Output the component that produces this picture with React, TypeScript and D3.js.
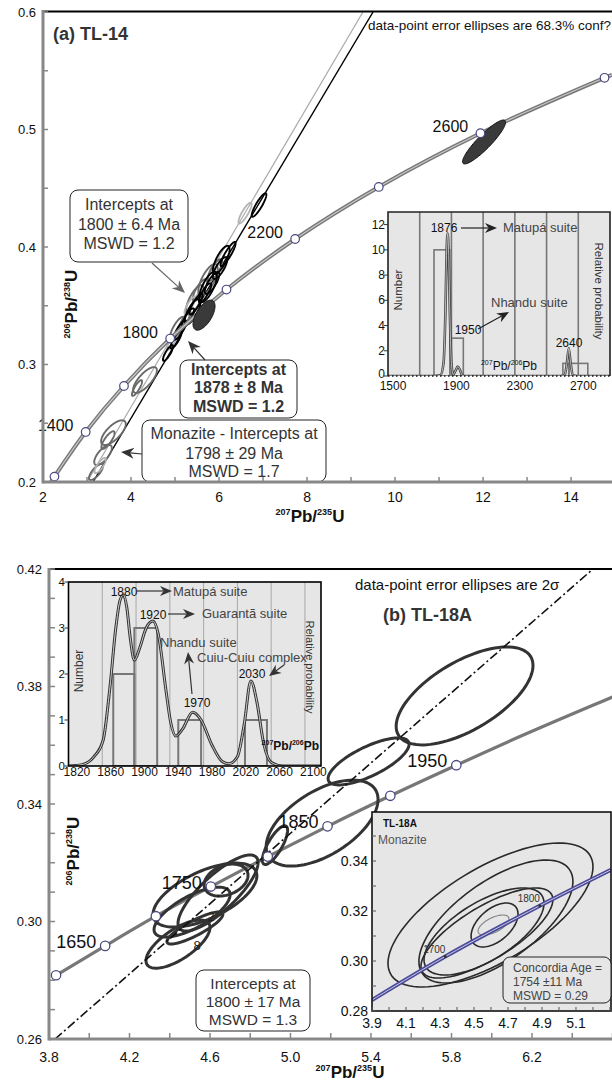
import React from "react";
import * as d3 from "d3";

const FONT = "'Liberation Sans', Arial, Helvetica, sans-serif";

// ---------- (a) TL-14 ----------
const agesA = [1200, 1400, 1600, 1800, 2000, 2200, 2400, 2600, 2800];
const concAX = [2.26, 2.97, 3.84, 4.89, 6.17, 7.73, 9.63, 11.94, 14.76];
const concAY = [0.2046, 0.2426, 0.2817, 0.3221, 0.3638, 0.4068, 0.4511, 0.4968, 0.544];
const concAStart = [2.18, 0.2];
const concAEnd = [14.93, 0.5466];
const labelsA = [1400, 1800, 2200, 2600];

// discordia chords: x0, y0, x1, y1
const discordBlackA = [3.136, 0.2, 9.5, 0.6];
const discordGrayA = [3.0, 0.2, 9.27, 0.6];

// error ellipses: x, y, sx, sy, rho
const ellBlackA = [
  [6.909, 0.4357, 0.167, 0.01, 0.88],
  [6.205, 0.394, 0.172, 0.0103, 0.89],
  [6.023, 0.3821, 0.164, 0.0093, 0.78],
  [6.05, 0.389, 0.19, 0.012, 0.75],
  [5.841, 0.3694, 0.164, 0.0093, 0.78],
  [5.75, 0.366, 0.2, 0.013, 0.72],
  [5.682, 0.3609, 0.14, 0.0082, 0.83],
  [5.477, 0.3515, 0.15, 0.0089, 0.85],
  [5.4, 0.345, 0.18, 0.011, 0.75],
  [5.295, 0.3396, 0.14, 0.0082, 0.83],
  [5.114, 0.3294, 0.14, 0.0082, 0.83],
  [5.023, 0.3209, 0.126, 0.0074, 0.85],
  [4.841, 0.3098, 0.115, 0.0067, 0.83],
];
const ellGrayA = [
  [5.909, 0.3804, 0.164, 0.0093, 0.78],
  [5.75, 0.372, 0.22, 0.0135, 0.7],
  [5.568, 0.3634, 0.164, 0.0093, 0.78],
  [5.45, 0.355, 0.2, 0.0125, 0.72],
  [5.227, 0.3379, 0.126, 0.0074, 0.85],
  [5.05, 0.33, 0.17, 0.0105, 0.75],
  [4.318, 0.2868, 0.27, 0.011, 0.75],
  [4.136, 0.28, 0.115, 0.0067, 0.83],
  [3.6, 0.242, 0.28, 0.0105, 0.7],
  [3.477, 0.2357, 0.15, 0.0075, 0.8],
  [3.364, 0.223, 0.2, 0.0085, 0.7],
  [3.205, 0.2085, 0.16, 0.0068, 0.75],
];
const ellLightA = [
  [6.591, 0.4289, 0.15, 0.0089, 0.85],
  [5.341, 0.3506, 0.126, 0.0074, 0.85],
  [4.932, 0.3191, 0.115, 0.0067, 0.83],
  [3.3, 0.214, 0.13, 0.0065, 0.8],
];
const ellFilledA = [
  [5.659, 0.342, 0.25, 0.0128, 0.6],
  [12.023, 0.4894, 0.489, 0.0187, 0.9],
];

// inset (a): 207Pb/206Pb histogram + probability
const histA = [
  [1790, 1890, 10],
  [1900, 1975, 3],
  [2603, 2641, 1],
  [2641, 2760, 1],
];
const probA = [
  [1500, 0], [1780, 0], [1830, 0.05], [1850, 1], [1862, 5], [1870, 10], [1876, 11.3],
  [1882, 10], [1890, 5], [1900, 1], [1912, 0.1], [1925, 0.4], [1940, 0.75], [1955, 0.45],
  [1968, 0.05], [1990, 0], [2590, 0], [2615, 0.1], [2628, 1], [2640, 2.2], [2652, 1],
  [2665, 0.1], [2690, 0], [2900, 0],
];
const gridA = [1700, 1900, 2100, 2300, 2500, 2700];
const xTicksIA = [1500, 1900, 2300, 2700];
const yTicksIA = [0, 2, 4, 6, 8, 10, 12];

// ---------- (b) TL-18A ----------
const agesB = [1600, 1650, 1700, 1750, 1800, 1850, 1900, 1950];
const concBX = [3.835, 4.079, 4.331, 4.604, 4.887, 5.184, 5.496, 5.824];
const concBY = [0.2817, 0.2917, 0.3018, 0.3119, 0.3221, 0.3324, 0.3428, 0.3532];
const concBTail = [[6.168, 0.3638], [6.53, 0.3744], [6.6, 0.3764]];
const labelsB = [1650, 1750, 1850, 1950];
const discordB = [3.83, 0.26, 6.56, 0.4234];

const ellB = [
  [5.865, 0.3768, 0.34, 0.01668, 0.62],
  [5.388, 0.3545, 0.2012, 0.008, 0.73],
  [5.157, 0.3335, 0.278, 0.01464, 0.55],
  [4.923, 0.326, 0.0626, 0.0066, 0.77],
  [4.575, 0.309, 0.258, 0.0109, 0.6],
  [4.64, 0.3097, 0.199, 0.01294, 0.8],
  [4.511, 0.3032, 0.189, 0.0085, 0.7],
  [4.441, 0.2923, 0.159, 0.0082, 0.69],
  [4.68, 0.3141, 0.109, 0.00545, 0.3],
  [4.525, 0.2978, 0.139, 0.00545, 0.85],
];

// inset (b) histogram
const histB = [
  [1863, 1888, 2],
  [1888, 1915, 3],
  [1940, 1967, 1],
  [2019, 2045, 1],
];
const probB = [
  [1810, 0], [1826, 0.03], [1840, 0.2], [1851, 0.56], [1859, 1.7], [1866, 3.0], [1871, 3.6],
  [1875, 3.72], [1879, 3.45], [1883, 2.8], [1888, 2.3], [1894, 2.55], [1902, 3.0], [1910, 3.15],
  [1917, 2.8], [1925, 1.7], [1931, 0.95], [1937, 0.65], [1945, 0.8], [1957, 1.17], [1967, 1.0],
  [1980, 0.45], [1992, 0.1], [2000, 0.05], [2010, 0.2], [2018, 0.9], [2026, 1.85], [2033, 1.4],
  [2041, 0.5], [2050, 0.08], [2064, 0], [2109, 0],
];
const gridB = [1850, 1890, 1930, 1970, 2010, 2050, 2090];
const xTicksIB = [1820, 1860, 1900, 1940, 1980, 2020, 2060, 2100];
const yTicksIB = [0, 1, 2, 3, 4];

// inset (b) monazite concordia
const concMX = [3.9, 4.331, 4.887, 5.306];
const concMY = [0.2844, 0.3018, 0.3221, 0.3365];
const agesM = [1613, 1700, 1800, 1870];
const labelsM = [1700, 1800];
const ellM = [
  [4.597, 0.3184, 0.603, 0.0288, 0.67],
  [4.629, 0.3158, 0.453, 0.0246, 0.65],
  [4.576, 0.3112, 0.388, 0.018, 0.74],
  [4.559, 0.3118, 0.353, 0.0174, 0.65],
  [4.621, 0.3144, 0.138, 0.0088, 0.5],
];
const ellMSmall = [[4.615, 0.3144, 0.091, 0.004, 0.6]];
const xTicksM = [3.9, 4.1, 4.3, 4.5, 4.7, 4.9, 5.1];
const yTicksM = [0.28, 0.3, 0.32, 0.34];

// ---------- scales ----------
const xA = d3.scaleLinear().domain([2, 14.93]).range([43, 612]);
const yA = d3.scaleLinear().domain([0.2, 0.6]).range([482, 12]);
const xIA = d3.scaleLinear().domain([1500, 2900]).range([388, 610]);
const yIA = d3.scaleLinear().domain([0, 13]).range([376, 212]);

const xB = d3.scaleLinear().domain([3.8, 6.6]).range([49, 612.5]);
const yB = d3.scaleLinear().domain([0.26, 0.42]).range([1039, 569]);
const xIB = d3.scaleLinear().domain([1810, 2109]).range([68.5, 321]);
const yIB = d3.scaleLinear().domain([0, 4]).range([766, 582]);
const xM = d3.scaleLinear().domain([3.9, 5.306]).range([372, 611]);
const yM = d3.scaleLinear().domain([0.28, 0.3596]).range([1011, 812]);

function ellipsePath(e, sx, sy) {
  const [x, y, ex, ey, r] = e;
  const k = Math.sqrt(1 - r * r);
  const pts = d3.range(0, 97).map((i) => {
    const t = (i / 96) * 2 * Math.PI;
    return [sx(x + ex * Math.cos(t)), sy(y + ey * (r * Math.cos(t) + k * Math.sin(t)))];
  });
  return d3.line()(pts) + "Z";
}

function Arrow({ x1, y1, x2, y2, color = "#333", w = 1.2, hl = 13, hw = 11 }) {
  const a = Math.atan2(y2 - y1, x2 - x1);
  const c = Math.cos(a), s = Math.sin(a);
  const bx = x2 - hl * c, by = y2 - hl * s;
  const ix = x2 - hl * 0.7 * c, iy = y2 - hl * 0.7 * s;
  const px = (-s * hw) / 2, py = (c * hw) / 2;
  return (
    <g>
      <line x1={x1} y1={y1} x2={ix} y2={iy} stroke={color} strokeWidth={w} />
      <path d={`M${x2},${y2}L${bx + px},${by + py}L${ix},${iy}L${bx - px},${by - py}Z`} fill={color} />
    </g>
  );
}

function Ratio({ x, y, a, b, c, d, size, sup, rotate = 0, anchor = "middle", weight = "bold" }) {
  const off = size * 0.42;
  return (
    <text
      x={x}
      y={y}
      textAnchor={anchor}
      fontWeight={weight}
      fontFamily={FONT}
      fill="#111"
      transform={rotate ? `rotate(${rotate},${x},${y})` : undefined}
    >
      <tspan fontSize={sup} dy={-off}>{a}</tspan>
      <tspan fontSize={size} dy={off}>{b}/</tspan>
      <tspan fontSize={sup} dy={-off}>{c}</tspan>
      <tspan fontSize={size} dy={off}>{d}</tspan>
    </text>
  );
}

function Box({ x, y, w, h, lines, cx, base, size, bold = false, fill = "#fff", anchor = "middle", color = "#333", rx = 8 }) {
  return (
    <g>
      <rect x={x} y={y} width={w} height={h} rx={rx} fill={fill} stroke="#222" strokeWidth={1} />
      {lines.map((t, i) => (
        <text key={i} x={cx} y={base[i]} textAnchor={anchor} fontSize={size} fontWeight={bold ? "bold" : "normal"} fontFamily={FONT} fill={color}>
          {t}
        </text>
      ))}
    </g>
  );
}

const probLine = (sx, sy) => d3.line().x((d) => sx(d[0])).y((d) => sy(d[1])).curve(d3.curveMonotoneX);
const concLine = (sx, sy) => d3.line().x((d) => sx(d[0])).y((d) => sy(d[1])).curve(d3.curveCatmullRom);

function PanelA() {
  const concPts = [concAStart, ...concAX.map((x, i) => [x, concAY[i]]), concAEnd];
  const concPath = concLine(xA, yA)(concPts);
  const xTicks = d3.range(2, 15, 1);
  const yTicks = d3.range(0.2, 0.601, 0.05);
  return (
    <g>
      <defs>
        <clipPath id="clipA">
          <rect x={43} y={12} width={569} height={470} />
        </clipPath>
        <clipPath id="clipIA">
          <rect x={388} y={212} width={222} height={164} />
        </clipPath>
      </defs>
      <g clipPath="url(#clipA)">
        <line x1={xA(discordGrayA[0])} y1={yA(discordGrayA[1])} x2={xA(discordGrayA[2])} y2={yA(discordGrayA[3])} stroke="#aaa" strokeWidth={1.2} />
        <line x1={xA(discordBlackA[0])} y1={yA(discordBlackA[1])} x2={xA(discordBlackA[2])} y2={yA(discordBlackA[3])} stroke="#000" strokeWidth={1.4} />
        {ellGrayA.map((e, i) => (
          <path key={"g" + i} d={ellipsePath(e, xA, yA)} fill="none" stroke="#6a6a6a" strokeWidth={1.9} />
        ))}
        {ellLightA.map((e, i) => (
          <path key={"l" + i} d={ellipsePath(e, xA, yA)} fill="none" stroke="#b4b4b4" strokeWidth={1.8} />
        ))}
        {ellBlackA.map((e, i) => (
          <path key={"b" + i} d={ellipsePath(e, xA, yA)} fill="none" stroke="#000" strokeWidth={1.9} />
        ))}
        <path d={concPath} fill="none" stroke="#777" strokeWidth={4} />
        <path d={concPath} fill="none" stroke="#c8c8c8" strokeWidth={1.2} />
        {ellFilledA.map((e, i) => (
          <path key={"f" + i} d={ellipsePath(e, xA, yA)} fill="#3a3a3a" stroke="#111" strokeWidth={1} />
        ))}
        {concAX.map((x, i) => (
          <circle key={i} cx={xA(x)} cy={yA(concAY[i])} r={4.3} fill="#fff" stroke="#4a4a82" strokeWidth={1.2} />
        ))}
      </g>
      {labelsA.map((age) => {
        const i = agesA.indexOf(age);
        return (
          <text key={age} x={xA(concAX[i]) - 30} y={yA(concAY[i]) - 1} textAnchor="middle" fontSize={16} fontFamily={FONT} fill="#111">
            {age}
          </text>
        );
      })}

      <text x={53} y={40} fontSize={18} fontWeight="bold" fontFamily={FONT} fill="#333">(a) TL-14</text>
      <text x={368} y={30} fontSize={13} fontFamily={FONT} fill="#111" textLength={243} lengthAdjust="spacingAndGlyphs">
        data-point error ellipses are 68.3% conf?
      </text>

      <Box x={70} y={190} w={118} h={72} cx={129} base={[210, 230, 249]} size={16} lines={["Intercepts at", "1800 ± 6.4 Ma", "MSWD = 1.2"]} />
      <Arrow x1={152} y1={263} x2={185} y2={293} color="#666" />
      <Box x={180} y={360} w={117} h={58} cx={238.5} base={[375, 393, 412]} size={16} bold lines={["Intercepts at", "1878 ± 8 Ma", "MSWD = 1.2"]} />
      <Arrow x1={205} y1={360} x2={188} y2={341} color="#333" />
      <Box x={142} y={420} w={184} h={62} cx={234} base={[439, 459, 477]} size={16} lines={["Monazite - Intercepts at", "1798 ± 29 Ma", "MSWD = 1.7"]} />
      <Arrow x1={142} y1={454} x2={121} y2={452} color="#333" />

      {/* inset */}
      <rect x={388} y={212} width={222} height={164} fill="#e6e6e6" />
      <g clipPath="url(#clipIA)">
        {gridA.map((g) => (
          <line key={g} x1={xIA(g)} x2={xIA(g)} y1={212} y2={376} stroke="#777" strokeWidth={1.6} />
        ))}
        {histA.map((h, i) => (
          <rect key={i} x={xIA(h[0])} y={yIA(h[2])} width={xIA(h[1]) - xIA(h[0])} height={yIA(0) - yIA(h[2])} fill="none" stroke="#777" strokeWidth={1.6} />
        ))}
        <path d={probLine(xIA, yIA)(probA)} fill="none" stroke="#444" strokeWidth={2.6} />
        <path d={probLine(xIA, yIA)(probA)} fill="none" stroke="#d8d8d8" strokeWidth={0.8} />
      </g>
      <path d="M388,376V212H610V376" fill="none" stroke="#222" strokeWidth={1.6} />
      <line x1={388} x2={610} y1={376} y2={376} stroke="#111" strokeWidth={1.4} strokeDasharray="1.5,2.5" />
      {yTicksIA.map((t) => (
        <g key={t}>
          <line x1={384} x2={388} y1={yIA(t)} y2={yIA(t)} stroke="#333" />
          <text x={385} y={yIA(t) + (t === 0 ? 2 : 4)} textAnchor="end" fontSize={12} fontFamily={FONT} fill="#111">{t}</text>
        </g>
      ))}
      {xTicksIA.map((t) => (
        <text key={t} x={xIA(t) + 5} y={390} textAnchor="middle" fontSize={12} fontFamily={FONT} fill="#111">{t}</text>
      ))}
      <text x={402} y={290} transform="rotate(-90,402,290)" textAnchor="middle" fontSize={11.5} fontFamily={FONT} fill="#333">Number</text>
      <text x={595} y={291} transform="rotate(90,595,291)" textAnchor="middle" fontSize={11.5} fontFamily={FONT} fill="#333">Relative probability</text>
      <text x={444} y={232} textAnchor="middle" fontSize={12} fontFamily={FONT} fill="#111">1876</text>
      <Arrow x1={461} y1={228} x2={497} y2={228} color="#222" hl={12} hw={10} />
      <text x={503} y={232} fontSize={13} fontFamily={FONT} fill="#444">Matupá suite</text>
      <text x={491} y={307} fontSize={13} fontFamily={FONT} fill="#444">Nhandu suite</text>
      <text x={468} y={334} textAnchor="middle" fontSize={12} fontFamily={FONT} fill="#111">1950</text>
      <Arrow x1={478} y1={329} x2={509} y2={312} color="#222" hl={12} hw={10} />
      <text x={569} y={347} textAnchor="middle" fontSize={12} fontFamily={FONT} fill="#111">2640</text>
      <Ratio x={509} y={370} a="207" b="Pb" c="206" d="Pb" size={12} sup={7} weight="normal" />

      {/* axes */}
      <line x1={43} x2={612} y1={11.5} y2={11.5} stroke="#000" strokeWidth={2} />
      <line x1={43} x2={612} y1={482} y2={482} stroke="#888" strokeWidth={3} />
      <line x1={43} x2={43} y1={10} y2={483.5} stroke="#888" strokeWidth={3} />
      {xTicks.map((t) => (
        <line key={t} x1={xA(t)} x2={xA(t)} y1={482} y2={477} stroke="#888" strokeWidth={1.5} />
      ))}
      {d3.range(2, 15, 2).map((t) => (
        <text key={t} x={xA(t)} y={502} textAnchor="middle" fontSize={14} fontFamily={FONT} fill="#111">{t}</text>
      ))}
      {yTicks.map((t, i) => (
        <line key={i} x1={43} x2={48} y1={yA(t)} y2={yA(t)} stroke="#888" strokeWidth={1.5} />
      ))}
      {[0.2, 0.3, 0.4, 0.5, 0.6].map((t) => (
        <text key={t} x={36} y={yA(t) + 4.5} textAnchor="end" fontSize={13} fontFamily={FONT} fill="#111">{t}</text>
      ))}
      <Ratio x={310} y={522} a="207" b="Pb" c="235" d="U" size={17} sup={9} />
      <Ratio x={77} y={304} a="206" b="Pb" c="238" d="U" size={17} sup={9} rotate={-90} />
    </g>
  );
}

function PanelB() {
  const concPts = [...concBX.map((x, i) => [x, concBY[i]]), ...concBTail];
  const concPath = concLine(xB, yB)(concPts);
  const concMPts = concMX.map((x, i) => [x, concMY[i]]);
  const concMPath = concLine(xM, yM)(concMPts);
  return (
    <g>
      <defs>
        <clipPath id="clipB">
          <rect x={49} y={569} width={563} height={470} />
        </clipPath>
        <clipPath id="clipIB">
          <rect x={68.5} y={582} width={252.5} height={184} />
        </clipPath>
        <clipPath id="clipM">
          <rect x={372} y={812} width={239} height={199} />
        </clipPath>
      </defs>
      <g clipPath="url(#clipB)">
        <path d={concPath} fill="none" stroke="#777" strokeWidth={3.2} />
        {ellB.map((e, i) => (
          <path key={i} d={ellipsePath(e, xB, yB)} fill="none" stroke="#333" strokeWidth={3} />
        ))}
        <line x1={xB(discordB[0])} y1={yB(discordB[1])} x2={xB(discordB[2])} y2={yB(discordB[3])} stroke="#111" strokeWidth={1.6} strokeDasharray="9,3,2,3" />
        {concBX.map((x, i) => (
          <circle key={i} cx={xB(x)} cy={yB(concBY[i])} r={4.7} fill="#fff" stroke="#4a4a82" strokeWidth={1.3} />
        ))}
      </g>
      {labelsB.map((age) => {
        const i = agesB.indexOf(age);
        return (
          <text key={age} x={xB(concBX[i]) - 29} y={yB(concBY[i]) + 2} textAnchor="middle" fontSize={18} fontFamily={FONT} fill="#111">
            {age}
          </text>
        );
      })}
      <text x={197} y={950} textAnchor="middle" fontSize={13} fontFamily={FONT} fill="#222">8</text>
      <text x={211} y={921} textAnchor="middle" fontSize={12} fontFamily={FONT} fill="#222">2</text>

      <text x={355} y={590} fontSize={15} fontFamily={FONT} fill="#111">data-point error ellipses are 2σ</text>
      <text x={383} y={621} fontSize={18} fontWeight="bold" fontFamily={FONT} fill="#333">(b) TL-18A</text>

      <Box x={196} y={970} w={114} h={61} cx={253} base={[989, 1007, 1025]} size={15.5} lines={["Intercepts at", "1800 ± 17 Ma", "MSWD = 1.3"]} />

      {/* histogram inset */}
      <rect x={68.5} y={582} width={252.5} height={184} fill="#e6e6e6" />
      <g clipPath="url(#clipIB)">
        {gridB.map((g) => (
          <line key={g} x1={xIB(g)} x2={xIB(g)} y1={582} y2={766} stroke="#a8a8a8" strokeWidth={1} />
        ))}
        {histB.map((h, i) => (
          <rect key={i} x={xIB(h[0])} y={yIB(h[2])} width={xIB(h[1]) - xIB(h[0])} height={yIB(0) - yIB(h[2])} fill="none" stroke="#777" strokeWidth={2} />
        ))}
        <path d={probLine(xIB, yIB)(probB)} fill="none" stroke="#333" strokeWidth={3} />
        <path d={probLine(xIB, yIB)(probB)} fill="none" stroke="#cfcfcf" strokeWidth={1} />
      </g>
      <rect x={68.5} y={582} width={252.5} height={184} fill="none" stroke="#000" strokeWidth={1.6} />
      {yTicksIB.map((t) => (
        <g key={t}>
          <line x1={64.5} x2={68.5} y1={yIB(t)} y2={yIB(t)} stroke="#333" />
          <text x={65} y={yIB(t) + 4} textAnchor="end" fontSize={11.5} fontFamily={FONT} fill="#111">{t}</text>
        </g>
      ))}
      {xTicksIB.map((t) => (
        <text key={t} x={xIB(t)} y={776} textAnchor="middle" fontSize={12} fontFamily={FONT} fill="#111">{t}</text>
      ))}
      <text x={83} y={671} transform="rotate(-90,83,671)" textAnchor="middle" fontSize={12} fontFamily={FONT} fill="#333">Number</text>
      <text x={306} y={667} transform="rotate(90,306,667)" textAnchor="middle" fontSize={11} fontFamily={FONT} fill="#333">Relative probability</text>
      <text x={124} y={596} textAnchor="middle" fontSize={12} fontFamily={FONT} fill="#111">1880</text>
      <Arrow x1={137} y1={591} x2={172} y2={591} color="#333" hl={12} hw={10} />
      <text x={173} y={596} fontSize={13} fontFamily={FONT} fill="#444">Matupá suite</text>
      <text x={153} y={619} textAnchor="middle" fontSize={12} fontFamily={FONT} fill="#111">1920</text>
      <Arrow x1={168} y1={614} x2={195} y2={614} color="#333" hl={12} hw={10} />
      <text x={202} y={618} fontSize={13} fontFamily={FONT} fill="#444">Guarantã suite</text>
      <text x={160} y={647} fontSize={13} fontFamily={FONT} fill="#444">Nhandu suite</text>
      <text x={197} y={662} fontSize={13} fontFamily={FONT} fill="#444">Cuiu-Cuiu complex</text>
      <Arrow x1={192} y1={694} x2={188} y2={652} color="#333" hl={12} hw={10} />
      <text x={197} y={707} textAnchor="middle" fontSize={12} fontFamily={FONT} fill="#111">1970</text>
      <text x={252} y={678} textAnchor="middle" fontSize={12} fontFamily={FONT} fill="#111">2030</text>
      <Arrow x1={284} y1={665} x2={269} y2={676} color="#333" hl={12} hw={10} />
      <Ratio x={319} y={750} a="207" b="Pb" c="206" d="Pb" size={12} sup={7} anchor="end" />

      {/* monazite inset */}
      <rect x={372} y={812} width={239} height={199} fill="#e6e6e6" />
      <g clipPath="url(#clipM)">
        {ellM.map((e, i) => (
          <path key={i} d={ellipsePath(e, xM, yM)} fill="none" stroke="#2a2a2a" strokeWidth={1.6} />
        ))}
        {ellMSmall.map((e, i) => (
          <path key={i} d={ellipsePath(e, xM, yM)} fill="none" stroke="#888" strokeWidth={1.2} />
        ))}
        <path d={concMPath} fill="none" stroke="#4b4b98" strokeWidth={4} />
        <path d={concMPath} fill="none" stroke="#c9c9ea" strokeWidth={1} />
        {labelsM.map((age) => {
          const i = agesM.indexOf(age);
          return (
            <g key={age}>
              <circle cx={xM(concMX[i])} cy={yM(concMY[i])} r={1.6} fill="#333" />
              <text x={xM(concMX[i]) - 11} y={yM(concMY[i]) - 4} textAnchor="middle" fontSize={10} fontFamily={FONT} fill="#333">{age}</text>
            </g>
          );
        })}
      </g>
      <rect x={372} y={812} width={239} height={199} fill="none" stroke="#111" strokeWidth={1.6} />
      {d3.range(0.28, 0.36, 0.01).map((t, i) => (
        <line key={i} x1={372} x2={376} y1={yM(t)} y2={yM(t)} stroke="#555" />
      ))}
      {yTicksM.map((t) => (
        <text key={t} x={368} y={yM(t) + 5} textAnchor="end" fontSize={14} fontFamily={FONT} fill="#111">{t.toFixed(2)}</text>
      ))}
      {d3.range(3.9, 5.31, 0.1).map((t, i) => (
        <line key={i} x1={xM(t)} x2={xM(t)} y1={1011} y2={1007} stroke="#555" />
      ))}
      {xTicksM.map((t) => (
        <text key={t} x={xM(t)} y={1028} textAnchor="middle" fontSize={14} fontFamily={FONT} fill="#111">{t.toFixed(1)}</text>
      ))}
      <text x={383} y={827} fontSize={10} fontWeight="bold" fontFamily={FONT} fill="#111">TL-18A</text>
      <text x={378} y={844} fontSize={12} fontFamily={FONT} fill="#555">Monazite</text>
      <Box x={503} y={957} w={108} h={46} rx={7} fill="#e6e6e6" anchor="start" cx={513} base={[972, 986, 1000]} size={12} color="#444" lines={["Concordia Age =", "1754 ±11 Ma", "MSWD = 0.29"]} />

      {/* axes */}
      <line x1={49} x2={612} y1={569} y2={569} stroke="#000" strokeWidth={2} />
      <line x1={49} x2={612} y1={1039} y2={1039} stroke="#888" strokeWidth={3} />
      <line x1={49} x2={49} y1={568} y2={1040.5} stroke="#888" strokeWidth={3} />
      {d3.range(3.8, 6.61, 0.2).map((t, i) => (
        <line key={i} x1={xB(t)} x2={xB(t)} y1={1039} y2={1033} stroke="#888" strokeWidth={1.5} />
      ))}
      {[3.8, 4.2, 4.6, 5.0, 5.4, 5.8, 6.2].map((t) => (
        <text key={t} x={xB(t)} y={1062} textAnchor="middle" fontSize={14} fontFamily={FONT} fill="#111">{t.toFixed(1)}</text>
      ))}
      {d3.range(0.26, 0.421, 0.01).map((t, i) => (
        <line key={i} x1={49} x2={55} y1={yB(t)} y2={yB(t)} stroke="#888" strokeWidth={1.5} />
      ))}
      {[0.26, 0.3, 0.34, 0.38, 0.42].map((t) => (
        <text key={t} x={42} y={yB(t) + 4.5} textAnchor="end" fontSize={13} fontFamily={FONT} fill="#111">{t.toFixed(2)}</text>
      ))}
      <Ratio x={350} y={1078} a="207" b="Pb" c="235" d="U" size={17} sup={9} />
      <Ratio x={79} y={851} a="206" b="Pb" c="238" d="U" size={17} sup={9} rotate={-90} />
    </g>
  );
}

export default function App() {
  return (
    <svg width={612} height={1089} style={{ position: "absolute", left: 0, top: 0, background: "#fff" }}>
      <rect width={612} height={1089} fill="#fff" />
      <PanelA />
      <PanelB />
    </svg>
  );
}
